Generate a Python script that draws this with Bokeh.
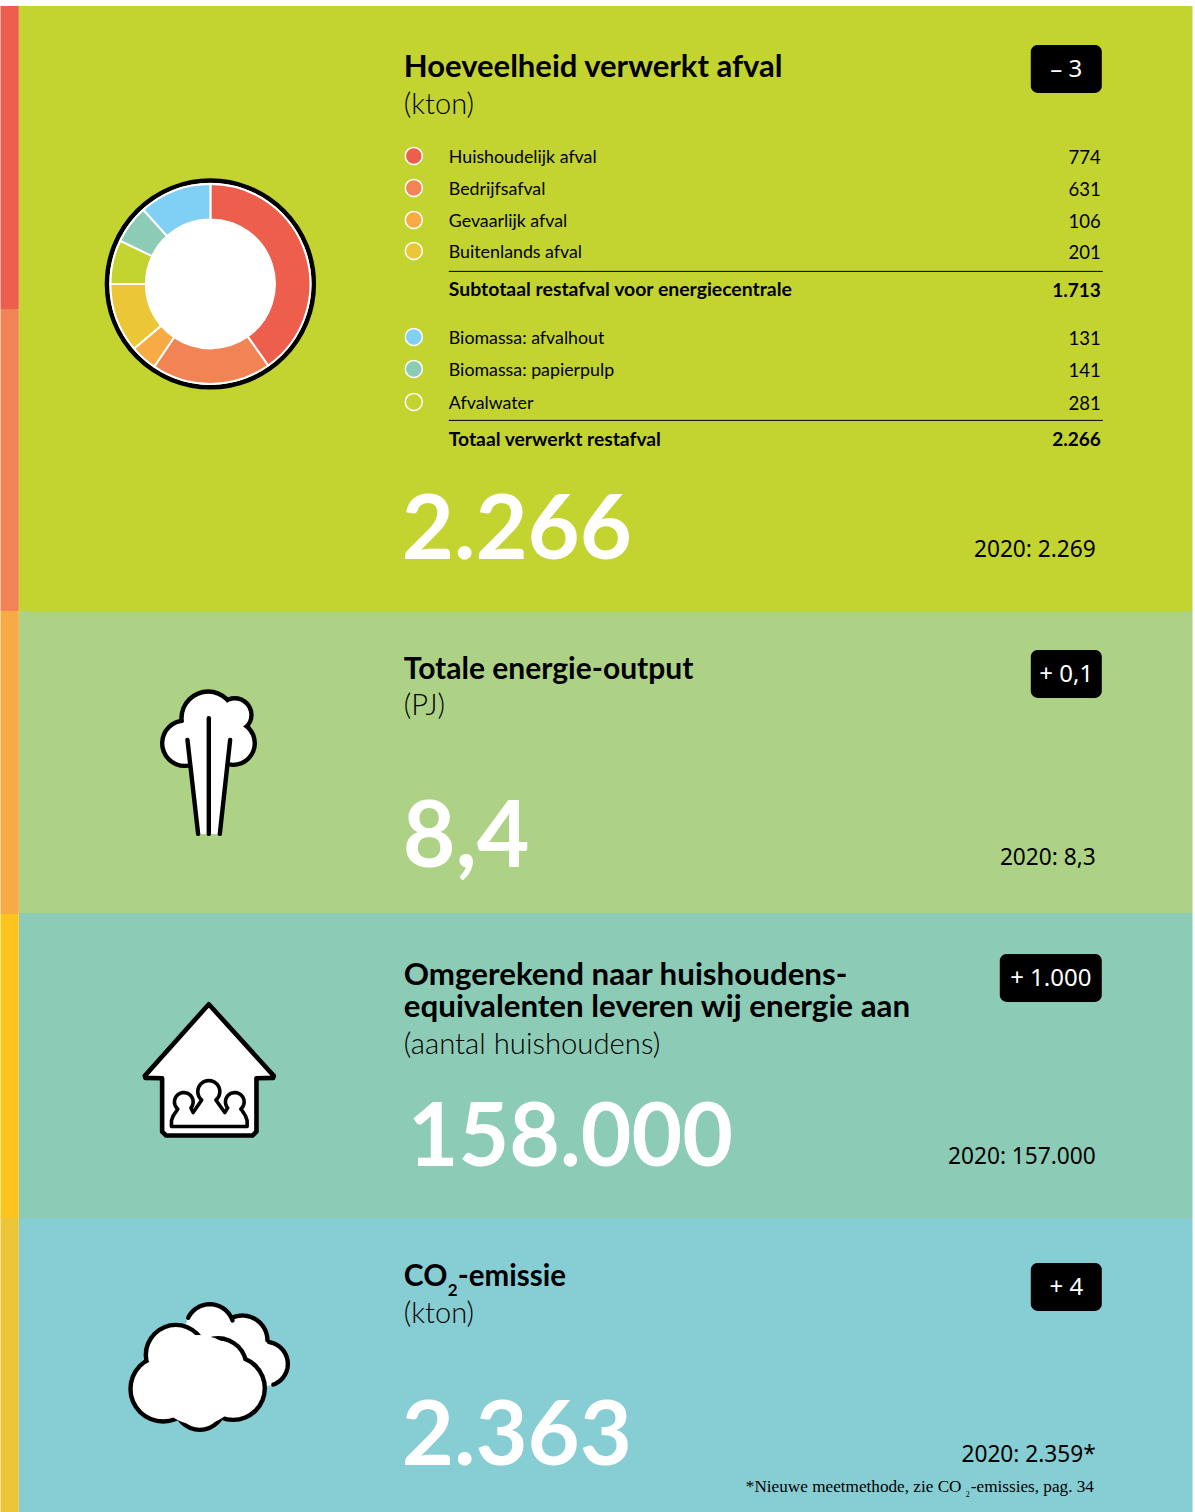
import math
from bokeh.plotting import figure
from bokeh.core.properties import value
from bokeh.embed import file_html
from bokeh.resources import INLINE

# ---------- data ----------
titles = ["Hoeveelheid verwerkt afval", "Totale energie-output", "Omgerekend naar huishoudens-",
          "equivalenten leveren wij energie aan", "CO", "-emissie"]
units = ["(kton)", "(PJ)", "(aantal huishoudens)", "(kton)"]
badges = ["– 3", "+ 0,1", "+ 1.000", "+ 4"]
big_numbers = ["2.266", "8,4", "158.000", "2.363"]
previous = ["2020: 2.269", "2020: 8,3", "2020: 157.000", "2020: 2.359*"]
waste_labels = ["Huishoudelijk afval", "Bedrijfsafval", "Gevaarlijk afval", "Buitenlands afval"]
waste_values = ["774", "631", "106", "201"]
bio_labels = ["Biomassa: afvalhout", "Biomassa: papierpulp", "Afvalwater"]
bio_values = ["131", "141", "281"]
subtotal = ["Subtotaal restafval voor energiecentrale", "1.713"]
total = ["Totaal verwerkt restafval", "2.266"]
# ring slices as drawn in the picture (percent of the circle), clockwise from 12 o'clock
ring_shares = [40.2, 19.3, 4.3, 11.2, 7.1, 6.2, 11.7]
ring_colors = ["#ee5e4d", "#f28354", "#f8aa45", "#ebc738", "#c3d32f", "#8ccbb6", "#80cff5"]

BLACK = "#000000"
WHITE = "#ffffff"
HEAD = value("Lato")
LIGHT = value("Lato Light")
NUM = value("Noto Sans")
SERIF = value("Liberation Serif")

p = figure(width=1195, height=1512, x_range=(0.7, 1195.7), y_range=(1512.6, 0.6),
           x_axis_location=None, y_axis_location=None, toolbar_location=None,
           output_backend="svg", min_border=0, outline_line_color=None,
           background_fill_color=WHITE, border_fill_color=WHITE)
p.grid.visible = False

# ---------- bands ----------
p.quad(left=19, right=1192.7, top=[6, 611, 913, 1218], bottom=[611, 913, 1218, 1520],
       fill_color=["#c3d32f", "#add285", "#8ccbb6", "#87cdd4"], line_color=None)
p.quad(left=-5, right=19, top=[6, 309, 611, 914, 1218], bottom=[309, 611, 914, 1218, 1520],
       fill_color=["#ee5e4d", "#f28354", "#f8aa45", "#fec41e", "#ebc738"], line_color=None)

# ---------- ring ----------
cx, cy = 210.6, 284
p.circle([cx], [cy], radius=103.4, fill_color=WHITE, line_color=BLACK, line_width=4.6)
start = math.pi / 2
total_share = sum(ring_shares)
for s, c in zip(ring_shares, ring_colors):
    end = start - s / total_share * 2 * math.pi
    p.annular_wedge([cx], [cy], inner_radius=64.5, outer_radius=100, start_angle=start, end_angle=end,
                    direction="clock", fill_color=c, line_color=WHITE, line_width=2)
    start = end

# ---------- helpers ----------
def arc(cxx, cyy, r, a0, a1, n=40):
    return ([cxx + r * math.cos(math.radians(a0 + (a1 - a0) * i / n)) for i in range(n + 1)],
            [cyy + r * math.sin(math.radians(a0 + (a1 - a0) * i / n)) for i in range(n + 1)])

def rounded(l, t, r, b, rad):
    xs, ys = [], []
    for c in [(r - rad, t + rad, -90, 0), (r - rad, b - rad, 0, 90), (l + rad, b - rad, 90, 180), (l + rad, t + rad, 180, 270)]:
        ax, ay = arc(c[0], c[1], rad, c[2], c[3], 8)
        xs += ax
        ys += ay
    return xs, ys

def blob(circles, ox, oy, w=2.2, scale=1 / 3):
    xs = [ox + c[0] * scale for c in circles]
    ys = [oy + c[1] * scale for c in circles]
    rs = [c[2] * scale for c in circles]
    p.circle(xs, ys, radius=[r + w for r in rs], fill_color=BLACK, line_color=None)
    p.circle(xs, ys, radius=[r - w for r in rs], fill_color=WHITE, line_color=None)

# ---------- steam icon ----------
ox, oy = 130, 680
blob([(165, 190, 68), (235, 115, 80), (315, 105, 50), (310, 190, 65)], ox, oy)
p.circle([ox + 240 / 3], [oy + 170 / 3], radius=30, fill_color=WHITE, line_color=None)
p.patch([ox + v / 3 for v in (173, 301, 270, 205)], [oy + v / 3 for v in (180, 180, 462, 462)],
        fill_color=WHITE, line_color=None)
p.multi_line([[ox + 173 / 3, ox + 205 / 3], [ox + 237 / 3, ox + 237 / 3], [ox + 301 / 3, ox + 270 / 3]],
             [[oy + 180 / 3, oy + 462 / 3], [oy + 115 / 3, oy + 462 / 3], [oy + 180 / 3, oy + 462 / 3]],
             line_color=BLACK, line_width=4.4, line_cap="round")

# ---------- house icon ----------
ox, oy = 130, 990
house = [(237, 43), (432, 258), (430, 264), (380, 265), (380, 425), (368, 437), (109, 437), (97, 425),
         (97, 265), (47, 264), (45, 258)]
p.patch([ox + a / 3 for a, b in house], [oy + b / 3 for a, b in house], fill_color=WHITE, line_color=BLACK,
        line_width=4.6, line_join="round")
fx, fy = [125, 125, 130, 141], [410, 392, 378, 362]
for (c0, c1, r, a0, a1), dip in zip([(162, 336, 28, 130, 400), (237, 305, 33, 130, 410), (315, 336, 28, 140, 410)],
                                    [(190, 368), (285, 368), None]):
    ax, ay = arc(c0, c1, r, a0, a1)
    fx += ax
    fy += ay
    if dip:
        fx.append(dip[0])
        fy.append(dip[1])
fx += [337, 347, 352, 352]
fy += [362, 378, 392, 410]
p.patch([ox + v / 3 for v in fx], [oy + v / 3 for v in fy], fill_color=WHITE, line_color=BLACK,
        line_width=3.6, line_join="round")

# ---------- cloud icon ----------
ox, oy = 120, 1290
back = [(270, 115, 72, 206, 341), (368, 152, 75, 247, 360), (438, 222, 66, -81, 70)]
p.circle([ox + c[0] / 3 for c in back], [oy + c[1] / 3 for c in back], radius=[c[2] / 3 for c in back],
         fill_color=WHITE, line_color=None)
p.circle([ox + 340 / 3], [oy + 200 / 3], radius=35, fill_color=WHITE, line_color=None)
for c in back:
    ax, ay = arc(c[0], c[1], c[2], c[3], c[4])
    p.line([ox + v / 3 for v in ax], [oy + v / 3 for v in ay], line_color=BLACK, line_width=4.4, line_cap="round")
blob([(130, 297, 98), (168, 195, 90), (295, 230, 85), (340, 295, 95), (240, 345, 75)], ox, oy)
p.circle([ox + 235 / 3], [oy + 270 / 3], radius=45, fill_color=WHITE, line_color=None)

# ---------- texts ----------
def txt(x, y, s, size, font=HEAD, color=BLACK, align="left", style="normal"):
    # the svg backend draws alphabetic text lower than its anchor; compensate
    p.text([x], [y - 0.35 * size], text=[s], text_font=font, text_font_size=f"{size}px", text_color=color,
           text_align=align, text_baseline="alphabetic", text_font_style=style)

txt(404, 76, titles[0], 31, style="bold")
txt(404, 113, units[0], 29, font=LIGHT)
txt(404, 678, titles[1], 30, style="bold")
txt(404, 714, units[1], 29, font=LIGHT)
txt(404, 984, titles[2], 31.3, style="bold")
txt(404, 1016, titles[3], 31.3, style="bold")
txt(404, 1052.5, units[2], 29.3, font=LIGHT)
txt(404, 1285, titles[4], 30, style="bold")
txt(448, 1296, "2", 17, style="bold")
txt(458, 1285, titles[5], 29.5, style="bold")
txt(404, 1321.5, units[3], 29, font=LIGHT)

for (l, t, r, b), s in zip([(1031, 45, 1102, 93), (1031, 650, 1102, 698), (1000, 954, 1102, 1002), (1031, 1263, 1102, 1311)], badges):
    bx, by = rounded(l, t, r, b, 7)
    p.patch(bx, by, fill_color=BLACK, line_color=None)
    txt((l + r) / 2, (t + b) / 2 + 7, s, 24, font=NUM, color=WHITE, align="center")

for (x, y, sz), s in zip([(402, 558, 90), (403, 865, 91), (408, 1165, 87.5), (402, 1464, 90)], big_numbers):
    txt(x, y, s, sz, color=WHITE, style="bold")
for y, s in zip([557, 865, 1164, 1462], previous):
    txt(1096, y, s, 22.7, font=NUM, align="right")
txt(746, 1493, "*Nieuwe meetmethode, zie CO", 17.2, font=SERIF)
txt(966, 1497, "2", 8, font=SERIF)
txt(971, 1493, "-emissies, pag. 34", 17.2, font=SERIF)

all_rows = list(zip(waste_labels + bio_labels, waste_values + bio_values, [156, 188, 220, 251, 337, 369, 402],
                    [ring_colors[i] for i in (0, 1, 2, 3, 6, 5, 4)]))
for lab, val, y, col in all_rows:
    p.circle([414], [y], radius=8.5, fill_color=col, line_color=WHITE, line_width=1.5)
    txt(449, y + 6, lab, 17.8)
    txt(1101, y + 7.5, val, 18.5, align="right")

p.line([449, 1103], [271.5, 271.5], line_color=BLACK, line_width=1)
p.line([449, 1103], [420.5, 420.5], line_color=BLACK, line_width=1)
txt(449, 295, subtotal[0], 19.4, style="bold")
txt(1101, 297, subtotal[1], 19, align="right", style="bold")
txt(449, 445, total[0], 19.3, style="bold")
txt(1101, 446, total[1], 19, align="right", style="bold")

open("out.html", "w").write(file_html(p, INLINE))
